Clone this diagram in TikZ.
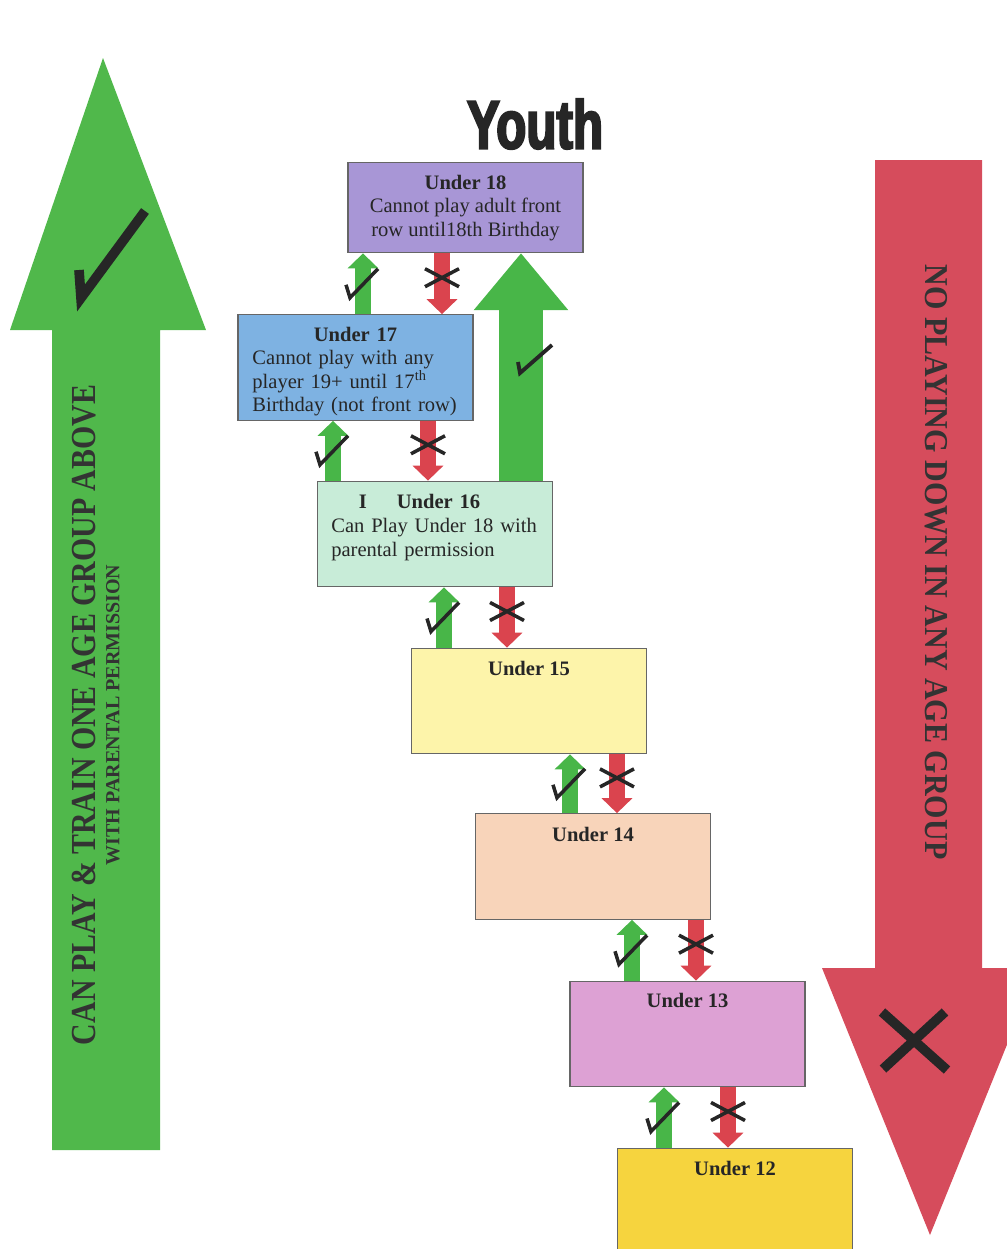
\documentclass[tikz,border=0pt]{standalone}
\usepackage{fontspec}
\setmainfont{Liberation Serif}
\newfontfamily\youthfont[FakeStretch=0.72,FakeBold=3]{Liberation Sans Bold}
\usetikzlibrary{arrows.meta,positioning}
\definecolor{biggreen}{RGB}{80,184,75}
\definecolor{okgreen}{RGB}{72,182,72}
\definecolor{bigred}{RGB}{214,76,92}
\definecolor{nored}{RGB}{218,68,78}
\definecolor{col18}{RGB}{168,150,214}
\definecolor{col17}{RGB}{126,178,226}
\definecolor{col16}{RGB}{200,236,216}
\definecolor{col15}{RGB}{253,244,170}
\definecolor{col14}{RGB}{248,212,186}
\definecolor{col13}{RGB}{221,161,212}
\definecolor{col12}{RGB}{246,212,62}
\begin{document}
\begin{tikzpicture}[x=0.02cm, y=-0.02cm,
  agebox/.style={draw=black!60, line width=0.7pt, minimum width=133.8pt, minimum height=60.1pt, inner sep=0pt},
  agetext/.style={inner sep=0pt, font=\fontsize{11.7}{13.4}\selectfont, text=black!85},
  upok/.style={draw=okgreen, line width=9pt, -{Triangle[width=17.6pt,length=8.5pt,line width=0pt]}},
  downno/.style={draw=nored, line width=9pt, -{Triangle[width=17.6pt,length=8.5pt,line width=0pt]}},
  tick/.style={draw=black!85, line width=2pt, -},
  okmark/.pic={\draw[tick] (-17,1) -- (-13,14) -- (15,-15);},
  nomark/.pic={\draw[tick] (-17,-9) -- (17,9) (-17,9) -- (17,-9);},
]
\useasboundingbox (0,0) rectangle (1007,1249);
\clip (0,0) rectangle (1007,1249);
% big side arrows
\fill[biggreen] (52,1150) -- (52,330) -- (10,330) -- (103,58) -- (206,330) -- (160,330) -- (160,1150) -- cycle;
\draw[black!85, line width=5.5pt] (79,270) -- (81,298) -- (145,211);
\node[rotate=90, align=center, text=black!80, font=\fontsize{11.4}{13.6}\selectfont\bfseries] (canplay) at (96,715)
  {\scalebox{0.85}[1]{\fontsize{20}{13.6}\selectfont CAN PLAY \& TRAIN ONE AGE GROUP ABOVE}\\WITH PARENTAL PERMISSION};
\fill[bigred] (875,160) -- (982,160) -- (982,968) -- (1038,968) -- (930,1235) -- (822,968) -- (875,968) -- cycle;
\draw[black!85, line width=5.5pt] (882,1012) -- (947,1070) (945,1012) -- (883,1069);
\node[rotate=-90, text=black!80] (nodown) at (936,562)
  {\scalebox{0.9}[1]{\fontsize{19}{19}\selectfont\bfseries NO PLAYING DOWN IN ANY AGE GROUP}};
% title
\node[text=black!85] (youth) at (535,124) {\youthfont\fontsize{39}{39}\selectfont Youth};
% age group boxes
\node[agebox, fill=col18, minimum height=51.6pt] (u18) at (465.5,207.5) {};
\node[agebox, fill=col17] (u17) at (355.5,367.5) {};
\node[agebox, fill=col16] (u16) at (435,534) {};
\node[agebox, fill=col15] (u15) at (529,701) {};
\node[agebox, fill=col14] (u14) at (593,866.5) {};
\node[agebox, fill=col13] (u13) at (687.5,1034) {};
\node[agebox, fill=col12] (u12) at (735,1201) {};
\node[agetext, align=center, below=7.4pt of u18.north] (u18t)
  {\textbf{Under 18}\\Cannot play adult front\\row until18th Birthday};
\node[agetext, align=left, text width=117.3pt, below=7pt of u17.north] (u17t)
  {\makebox[\hsize]{\textbf{Under 17}}\\Cannot play with any\\player 19+ until 17\textsuperscript{th}\\Birthday (not front row)};
\node[agetext, align=left, text width=122pt, below=7.8pt of u16.north, xshift=2pt] (u16t)
  {\makebox[\hsize]{\llap{\textbf{I}\hspace{17pt}}\textbf{Under 16}}\\Can Play Under 18 with\\parental permission};
\node[agetext, below=7.8pt of u15.north] (u15t) {\textbf{Under 15}};
\node[agetext, below=7.8pt of u14.north] (u14t) {\textbf{Under 14}};
\node[agetext, below=7pt of u13.north] (u13t) {\textbf{Under 13}};
\node[agetext, below=7.4pt of u12.north] (u12t) {\textbf{Under 12}};
% one group up: allowed
\draw[upok] (u17.north -| 363,0) -- (u18.south -| 363,0) pic[pos=0.5]{okmark};
\draw[upok] (u16.north -| 333,0) -- (u17.south -| 333,0) pic[pos=0.5]{okmark};
\draw[upok] (u15.north -| 444,0) -- (u16.south -| 444,0) pic[pos=0.5]{okmark};
\draw[upok] (u14.north -| 570,0) -- (u15.south -| 570,0) pic[pos=0.5]{okmark};
\draw[upok] (u13.north -| 632,0) -- (u14.south -| 632,0) pic[pos=0.5]{okmark};
\draw[upok] (u12.north -| 664,0) -- (u13.south -| 664,0) pic[pos=0.5]{okmark};
\draw[draw=okgreen, line width=25.5pt, -{Triangle[width=53.9pt,length=32.3pt,line width=0pt]}]
  (u16.north -| 521,0) -- (u18.south -| 521,0);
\draw[black!85, line width=2.2pt] (518,362) -- (520,373) -- (552,345);
% playing down: not allowed
\draw[downno] (u18.south -| 442,0) -- (u17.north -| 442,0) pic[pos=0.4]{nomark};
\draw[downno] (u17.south -| 428,0) -- (u16.north -| 428,0) pic[pos=0.4]{nomark};
\draw[downno] (u16.south -| 507,0) -- (u15.north -| 507,0) pic[pos=0.4]{nomark};
\draw[downno] (u15.south -| 617,0) -- (u14.north -| 617,0) pic[pos=0.4]{nomark};
\draw[downno] (u14.south -| 696,0) -- (u13.north -| 696,0) pic[pos=0.4]{nomark};
\draw[downno] (u13.south -| 728,0) -- (u12.north -| 728,0) pic[pos=0.4]{nomark};
\end{tikzpicture}
\end{document}
